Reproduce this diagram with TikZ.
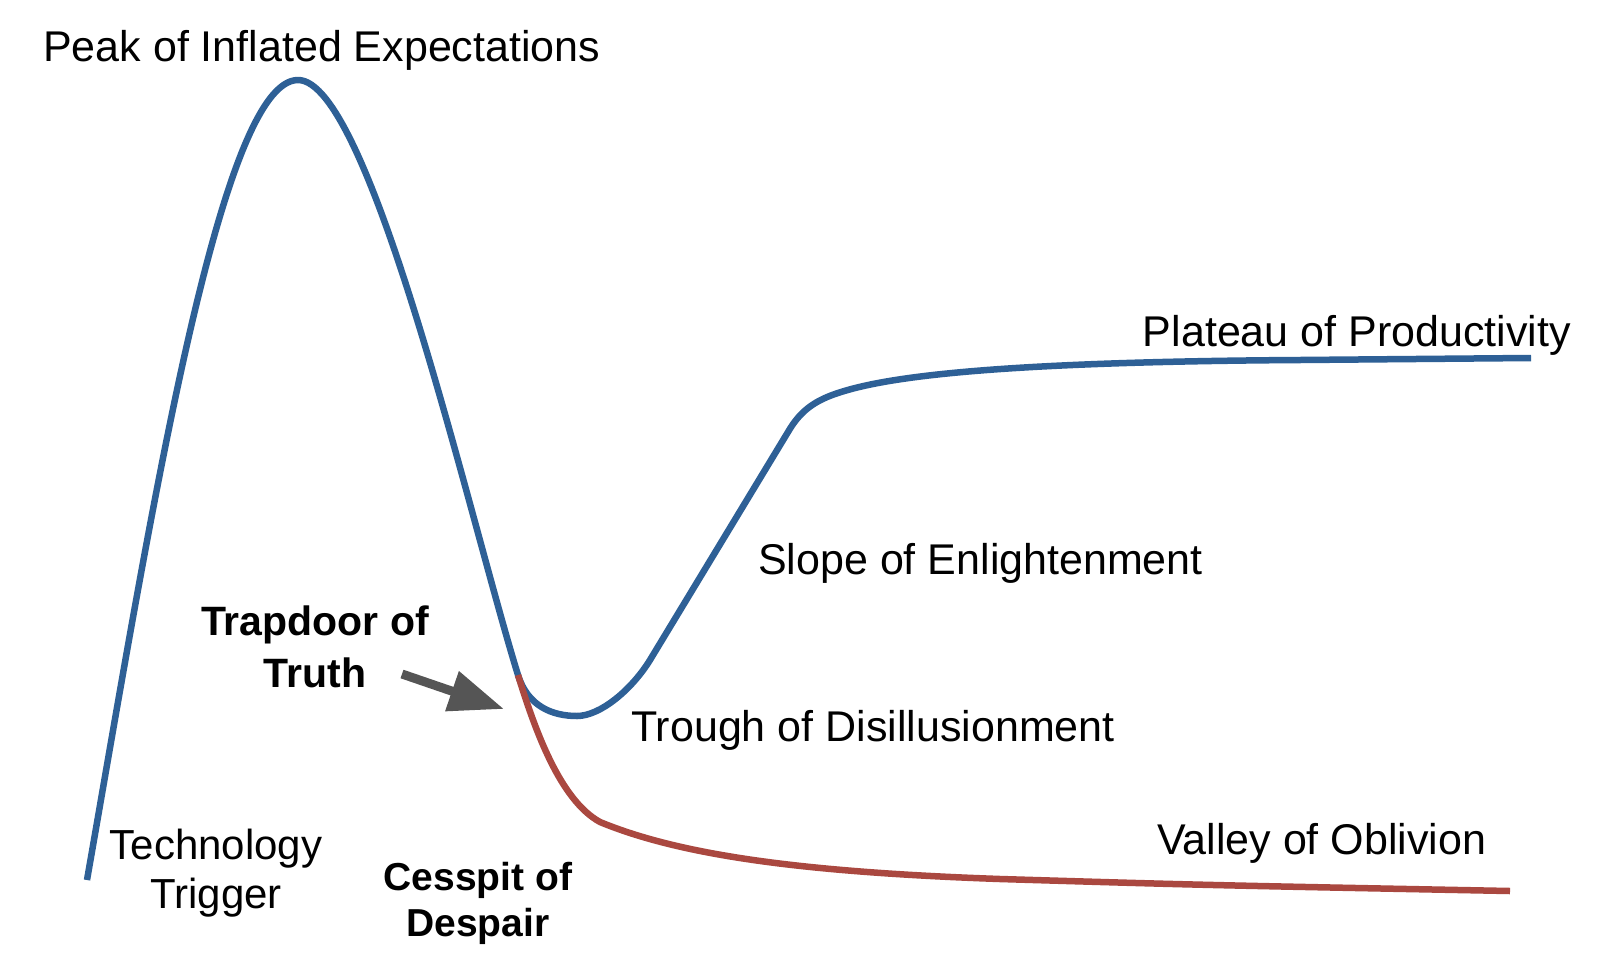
\documentclass[tikz,border=0pt]{standalone}
\usepackage{fontspec}
\setmainfont{Liberation Sans}
\usetikzlibrary{arrows.meta}
\definecolor{hypeblue}{RGB}{46,96,150}
\definecolor{hypered}{RGB}{170,72,64}
\definecolor{arrowgrey}{RGB}{85,85,85}
\begin{document}
\begin{tikzpicture}[x=1pt,y=-1pt,
  plainlabel/.style={inner sep=0pt, font=\fontsize{43}{49}\selectfont},
  twolabel/.style={inner sep=0pt, align=center, anchor=north},
  curve/.style={line width=6.5pt, line join=round}]
\fill[white] (0,0) rectangle (1600,961);
\useasboundingbox (0,0) rectangle (1600,961);

% hype curve
\draw[curve, hypeblue] (87,880)
  .. controls (150,520) and (220,80) .. (298,80)
  .. controls (370,80) and (470,520) .. (518,675)
  .. controls (527.6,706) and (552,716) .. (577,716)
  .. controls (600,716) and (631.5,690) .. (650,660)
  -- (788,432)
  .. controls (799,413) and (812,402) .. (835,394)
  .. controls (880,378.3) and (980,362) .. (1300,360)
  -- (1531,358);

% cesspit branch
\draw[curve, hypered] (518,675)
  .. controls (535,730) and (560,800) .. (600,822)
  .. controls (680,855) and (800,872) .. (1000,879)
  .. controls (1200,885) .. (1510,891);

% labels
\node[plainlabel, anchor=base west] (peak) at (43,61) {Peak of Inflated Expectations};
\node[plainlabel, anchor=base east] (plateau) at (1571,346) {Plateau of Productivity};
\node[plainlabel, anchor=base west] (slope) at (758,574) {Slope of Enlightenment};
\node[plainlabel, anchor=base west] (trough) at (631,741) {Trough of Disillusionment};
\node[plainlabel, anchor=base west] (valley) at (1157,854) {Valley of Oblivion};
\node[twolabel, font=\fontsize{42}{49}\selectfont] (trigger) at (216,829) {Technology\\Trigger};
\node[twolabel, font=\bfseries\fontsize{41}{52}\selectfont] (trapdoor) at (315,606) {Trapdoor of\\Truth};
\node[twolabel, font=\bfseries\fontsize{39}{46}\selectfont] (cesspit) at (478,862) {Cesspit of\\Despair};

% arrow
\coordinate (arrtail) at (402,674);
\coordinate (arrtip) at (504,709);
\draw[arrowgrey, line width=9pt, -{Triangle[length=55pt,width=40pt]}] (arrtail) -- (arrtip);
\end{tikzpicture}
\end{document}
